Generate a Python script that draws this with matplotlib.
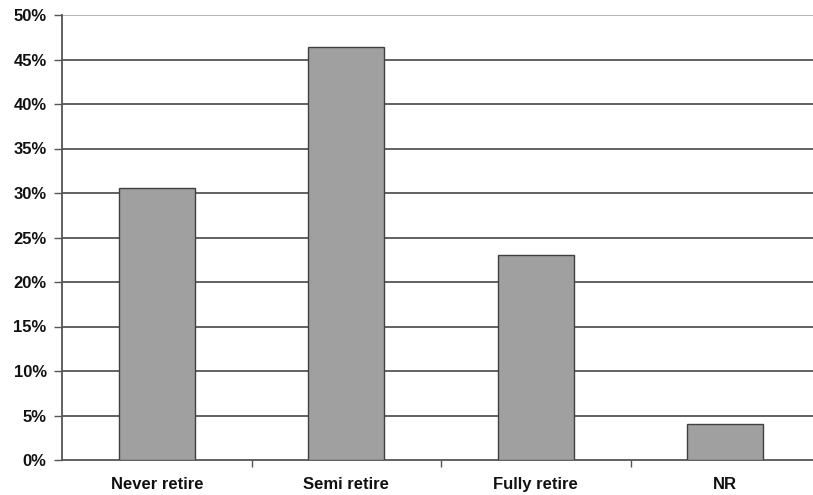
import matplotlib
matplotlib.use("Agg")
import matplotlib.pyplot as plt
from matplotlib.ticker import FuncFormatter, MultipleLocator

categories = ["Never retire", "Semi retire", "Fully retire", "NR"]
values = [30.6, 46.4, 23.0, 4.0]

W, H = 813, 495
fig = plt.figure(figsize=(W / 100, H / 100), dpi=100)
left, right, top, bottom = 62, 820, 15, 460
ax = fig.add_axes([left / W, 1 - bottom / H, (right - left) / W, (bottom - top) / H])

x = range(len(categories))
ax.bar(x, values, width=0.4, color="#a0a0a0", edgecolor="#404040", linewidth=1.0, zorder=3)

ax.set_xlim(-0.5, len(categories) - 0.5)
ax.set_ylim(0, 50)
ax.yaxis.set_major_locator(MultipleLocator(5))
ax.yaxis.set_major_formatter(FuncFormatter(lambda v, p: f"{int(round(v))}%"))
for yv in range(5, 50, 5):
    ax.axhline(yv, color="#555555", linewidth=1.3, zorder=1)
ax.axhline(50, color="#b0b0b0", linewidth=1.3, zorder=1)

ax.set_xticks(list(x))
ax.set_xticklabels(categories)
ax.set_xticks([i + 0.5 for i in range(len(categories) - 1)], minor=True)
ax.tick_params(axis="x", which="major", length=0, pad=12)
ax.tick_params(axis="x", which="minor", length=5, width=1, color="#555555", direction="out")
ax.tick_params(axis="y", length=6, width=1, color="#555555", direction="out", pad=5)

for lab in ax.get_xticklabels() + ax.get_yticklabels():
    lab.set_fontfamily("Liberation Sans")
    lab.set_fontweight("bold")
    lab.set_fontsize(12)
    lab.set_color("#111111")

for s in ["top", "right"]:
    ax.spines[s].set_visible(False)
ax.spines["left"].set_color("#555555")
ax.spines["bottom"].set_color("#555555")
ax.spines["left"].set_linewidth(1.3)
ax.spines["bottom"].set_linewidth(1.3)
ax.spines["left"].set_zorder(4)

fig.savefig("out.png", dpi=100)
